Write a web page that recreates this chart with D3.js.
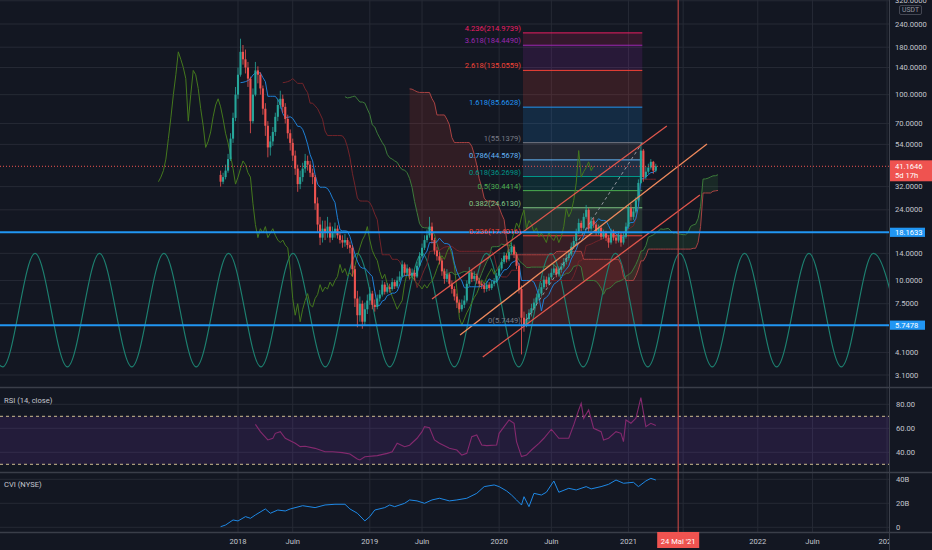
<!DOCTYPE html>
<html>
<head>
<meta charset="utf-8">
<script src="https://cdn.jsdelivr.net/npm/d3@7/dist/d3.min.js"></script>
<style>
html,body{margin:0;padding:0;background:#131722;overflow:hidden;}
svg{display:block;font-family:Roboto,"Liberation Sans",sans-serif;}
</style>
</head>
<body>
<svg id="chart" width="932" height="550"></svg>
<script>
// ================= DATA =================
const firstWeek = "2017-11-13";      // first weekly bar
const firstOpen = 37;
const closes = [34,36,39,
45,58,75,100,128,
170,155,140,122,
72,100,135,128,
108,84,68,52,
56,63,76,88,95,
86,74,62,55,
47,40,33,36,
40,44,42,38,36,
26,20,17,19,
18,19.5,17,18,19,
17.5,16.5,16,16.5,
15.5,15,11.5,8,
6.5,7.5,6,7,
7.8,8.5,7.4,7.2,8.0,
8.4,9.5,8.7,9.2,
9.0,9.8,9.3,10,
10.5,12.2,11,11.6,10.6,
11,10.5,12,13.5,
15,16.5,17.5,19.5,
16.5,14.5,13.5,12.8,11.2,
10.2,10.8,9.6,9.0,
8.2,7.6,7.0,7.4,
7.8,9.6,11.0,10.2,10.6,
10.0,9.6,9.4,9.0,
9.5,9.1,9.6,9.9,
10.6,11.6,12.6,13.6,13.0,
14.2,15.2,13.8,12.0,
9.0,6.3,5.75,6.2,
6.7,7.1,7.6,8.1,8.5,
9.2,10.1,9.6,10.4,
11.0,11.6,10.8,11.4,
11.9,12.6,13.2,13.8,15.2,
16.3,18.2,20.4,19.2,
22.0,24.0,19.0,21.0,
20.0,18.2,19.2,17.2,18.0,
17.0,16.0,18.2,17.0,
16.4,17.6,16.0,17.2,
19.5,24.5,22.0,23.5,27.0,
33.5,50.0,36.0,38.5,
40.5,43.5,39.0,41.1646];
const highs = [39,38,42,
48,62,80,110,140,
200,185,175,150,
125,108,150,142,
132,112,90,72,
60,67,80,95,105,
100,90,78,65,
58,50,42,39,
43,48,47,44,40,
37,28,22,21,
21,22,20.5,19.5,20.5,
19.8,18.2,17.5,17.8,
17,16.2,15.5,12,
8.8,8.2,7.8,7.6,
8.4,9.2,8.8,7.9,8.4,
8.9,10,9.8,9.7,
9.6,10.3,10.1,10.5,
11.2,12.8,12.5,12.2,11.8,
11.6,11.4,12.6,14.2,
15.8,17.5,18.8,22,
20.5,17,15.2,14.2,13.2,
11.6,11.5,11,10,
9.3,8.5,7.9,7.9,
8.3,10,11.8,11.4,11.2,
10.9,10.3,9.9,9.7,
9.9,9.8,10,10.3,
11,12,13.2,14.2,14,
14.8,16,15.6,14.2,
12.4,9.4,6.8,6.6,
7.0,7.5,8.0,8.5,9.0,
9.7,10.6,10.5,10.9,
11.6,12.2,11.9,11.9,
12.4,13.2,13.8,14.5,16,
17.2,19,21.5,21,
23,25.5,24.5,22,
21.8,20.5,20,19.6,18.8,
18.5,17.5,19,18.8,
17.6,18.4,18,18,
20.5,25.5,25.8,24.5,28,
35,55.1379,51,41,
42.5,45,44,42.5];
const lows = [32,33,35,
38,44,55,72,95,
125,145,130,110,
62,70,98,115,
100,78,60,46,
47,53,60,72,84,
80,70,58,50,
44,37,30,31,
34,38,39,36,33,
24,18,15.5,16,
16.5,17,16,16.5,17,
16.8,15.8,15,15.2,
14.8,14,10.5,7.2,
5.6,6,5.5,5.7,
6.6,7.4,7.0,6.8,7.0,
7.7,8.2,8.4,8.5,
8.6,8.8,9.0,9.1,
9.8,10.3,10.6,10.7,10.1,
10.3,10,10.3,11.8,
13.2,14.6,16,17,
15.8,13.8,12.8,12.2,10.6,
9.6,9.8,9.2,8.5,
7.8,7.1,6.7,6.8,
7.1,7.6,9.3,9.8,9.9,
9.6,9.2,9.0,8.6,
8.7,8.8,8.9,9.3,
9.7,10.3,11.3,12.3,12.5,
12.7,13.8,13.2,11.5,
8.5,4.0,5.3,5.6,
5.9,6.4,6.9,7.3,7.8,
8.2,9.0,9.2,9.4,
10.1,10.7,10.4,10.5,
11.0,11.6,12.2,12.8,13.5,
14.8,15.8,17.8,18.4,
18.8,21.5,18.2,18.5,
19.2,17.5,17.6,16.6,16.8,
16.3,15,15.6,16.4,
15.8,16,15.2,15.6,
16.8,19,21,21.2,23,
26.5,33,34,35,
37.5,39.5,37.5,38.2];

const priceTicks = [320,240,180,140,100,70,54,32,24,14,10,7.5,4.1,3.1];
const lastPrice = 41.1646;
const lastPriceCountdown = "5d 17h";
const levelLines = [18.1633, 5.7478];
const quoteCurrency = "USDT";

const fibRatios = ["0","0.236","0.382","0.5","0.618","0.786","1","1.618","2.618","3.618","4.236"];
const fibPrices = [5.7449,17.4016,24.6130,30.4414,36.2698,44.5678,55.1379,85.6628,135.0559,184.4490,214.9739];
const fibColors = ["#787b86","#f44336","#81c784","#4caf50","#009688","#64b5f6","#787b86","#2196f3","#f44336","#9c27b0","#e91e63"];
const fibAnchorDates = ["2020-03-13","2021-02-12"];

const channelStartDates  = ["2019-07-01","2019-09-18","2019-11-21"];
const channelStartPrices = [7.95, 5.09, 3.87];
const channelEndDates    = ["2021-04-22","2021-08-13","2021-07-24"];
const channelEndPrices   = [67.8, 54.3, 28.85];

// cycle extremes (week offsets from first bar) and their prices
const cycleWeeks  = [-100.5,-87.6,-74.6,-61.6,-48.7,-35.7,-22.8,-9.8,3.2,16.2,29.1,42.1,55.0,68.0,81.0,94.0,106.9,119.9,132.8,145.8,158.8,171.8,184.7,197.7,210.7,223.6,236.6,249.6,262.5,275.5];
const cycleValues = [14,3.43,14,3.43,14,3.43,14,3.43,14,3.43,14,3.43,14,3.43,14,3.43,14,3.43,14,3.43,14,3.43,14,3.43,14,3.43,14,3.43,14,3.43];

const rsiWeeks  = [14,16,19,21,22,24,26,30,32,34,38,42,45,49,52,55,56,58,63,67,69,71,74,76,79,81,82,84,86,88,92,95,97,99,101,103,105,107,111,112,114,116,118,119,121,123,125,128,130,133,136,140,142,144,145,146,148,150,153,154,156,159,161,162,163,165,167,169,171,173,175];
const rsiValues = [63.3,57.2,50.3,51.6,55.8,57.2,51.7,47.5,44.7,45,43.3,40.5,40.5,39.7,38.6,34.4,33.6,36.3,37.2,39.1,40.5,47.5,44.7,45.9,51.7,57.2,61.4,60.5,50.3,47.5,43.3,41.9,37.7,39.1,53,54.4,46.1,45.6,46.1,55.8,61.4,66.9,64.2,48.9,36.4,37.7,41.9,47.5,51.7,59.2,51.7,51.7,62.8,75.3,80.8,68.3,75.3,60,57.2,50.3,51.7,57.2,55.8,48.9,66.9,64.2,68.3,85.5,61.4,64.2,62.3];
const rsiTicks = [80,60,40];
const rsiBands = [70,30];

const cviWeeks  = [0,2,5,7,10,12,14,18,20,23,26,28,33,38,42,46,50,52,55,58,60,62,66,68,70,74,76,79,82,85,88,92,95,99,103,106,110,112,115,117,119,121,122,124,126,129,131,134,136,140,143,147,149,153,156,159,162,166,168,171,173,175];
const cviValues = [0.5,1.9,6.1,5.3,8.9,7.5,10.3,15.3,11.7,14.4,13.6,15.3,18,16.4,18.6,19.2,19.2,15.3,11.7,5.3,8.9,14.4,16.4,18.6,17.2,20,22.8,22,20,22.8,24.2,22,22.8,24.2,28.3,33.9,35.3,33.9,30.3,26.9,22.8,18.6,25.5,17.2,28.3,26.9,29.2,38.6,29.2,32.5,31.1,33.9,32,33.9,35.8,39.4,36.7,37.5,33.9,38.6,40.8,39.4];
const cviTicks = [40,20,0];
const cviTickLabels = ["40B","20B","0"];

const timeTickDates  = ["2018-01-01","2018-06-04","2019-01-07","2019-06-03","2020-01-06","2020-06-01","2021-01-04","2021-06-07","2022-01-03","2022-06-06","2023-01-02"];
const timeTickLabels = ["2018","Juin","2019","Juin","2020","Juin","2021","","2022","Juin","2023"];
const cursorDate  = "2021-05-24";
const cursorLabel = "24 Mai '21";

// ================= LAYOUT =================
const BG="#131722", GRID="#262a35", TXT="#c3c6ce", UP="#26a69a", DN="#ef5350";
const plotR = 889;
const mainH = 387, rsiT = 388, rsiB = 472, cviT = 473, cviB = 532;

const t0 = Date.parse(firstWeek+"T00:00:00Z");
const wk = s => (Date.parse(s+"T00:00:00Z") - t0) / (7*864e5);

const x  = d3.scaleLinear().domain([0,175]).range([220.6,655.8]);
const y  = d3.scaleLog().domain([240,3.1]).range([24,375]);
const yR = d3.scaleLinear().domain([80,40]).range([404.3,452.3]);
const yC = d3.scaleLinear().domain([40,0]).range([479.3,527.3]);

const svg = d3.select("#chart");
svg.append("rect").attr("width",932).attr("height",550).attr("fill",BG);
const defs = svg.append("defs");
defs.append("clipPath").attr("id","cMain").append("rect").attr("x",0).attr("y",0).attr("width",plotR).attr("height",mainH);
defs.append("clipPath").attr("id","cRsi").append("rect").attr("x",0).attr("y",rsiT).attr("width",plotR).attr("height",rsiB-rsiT);
defs.append("clipPath").attr("id","cCvi").append("rect").attr("x",0).attr("y",cviT).attr("width",plotR).attr("height",cviB-cviT);
defs.append("clipPath").attr("id","cTime").append("rect").attr("x",0).attr("y",cviB).attr("width",plotR).attr("height",550-cviB);
defs.append("clipPath").attr("id","cAxis").append("rect").attr("x",plotR).attr("y",0).attr("width",932-plotR).attr("height",550);

// ---------- grid ----------
const gGrid = svg.append("g");
timeTickDates.forEach(d=>{
  const xx = x(wk(d));
  if (xx < plotR) gGrid.append("line").attr("x1",xx).attr("x2",xx).attr("y1",0).attr("y2",cviB).attr("stroke",GRID).attr("stroke-width",1);
});
priceTicks.forEach(v=>gGrid.append("line").attr("x1",0).attr("x2",plotR).attr("y1",y(v)).attr("y2",y(v)).attr("stroke",GRID));
rsiTicks.forEach(v=>gGrid.append("line").attr("x1",0).attr("x2",plotR).attr("y1",yR(v)).attr("y2",yR(v)).attr("stroke",GRID));
cviTicks.forEach(v=>gGrid.append("line").attr("x1",0).attr("x2",plotR).attr("y1",yC(v)).attr("y2",yC(v)).attr("stroke",GRID));

// ---------- main pane ----------
const gM = svg.append("g").attr("clip-path","url(#cMain)");

// Ichimoku computed from the bars
const n = closes.length;
const opens = closes.map((c,i)=> i===0 ? firstOpen : closes[i-1]);
function mid(i,len){
  if (i < len-1) return null;
  let hi=-Infinity, lo=Infinity;
  for (let j=i-len+1;j<=i;j++){ hi=Math.max(hi,highs[j]); lo=Math.min(lo,lows[j]); }
  return (hi+lo)/2;
}
const disp = 25;
const tenkan=[], kijun=[], spanA=[], spanB=[], lagging=[];
for (let i=0;i<n;i++){
  const t=mid(i,9), k=mid(i,26), b=mid(i,52);
  if (t!==null) tenkan.push({w:i,v:t});
  if (k!==null) kijun.push({w:i,v:k});
  if (t!==null && k!==null) spanA.push({w:i+disp,v:(t+k)/2});
  if (b!==null) spanB.push({w:i+disp,v:b});
  lagging.push({w:i-disp,v:closes[i]});
}
const aMap = new Map(spanA.map(d=>[d.w,d.v]));
const cloud = spanB.map(d=>({w:d.w, a:aMap.get(d.w), b:d.v}));
gM.append("path").datum(cloud).attr("fill","rgba(67,160,71,0.13)")
  .attr("d", d3.area().x(d=>x(d.w)).y0(d=>y(d.b)).y1(d=>y(Math.max(d.a,d.b))));
gM.append("path").datum(cloud).attr("fill","rgba(244,67,54,0.13)")
  .attr("d", d3.area().x(d=>x(d.w)).y0(d=>y(d.a)).y1(d=>y(Math.max(d.a,d.b))));

// Fibonacci retracement
const fx0 = x(wk(fibAnchorDates[0])), fx1 = x(wk(fibAnchorDates[1]));
const gF = gM.append("g");
for (let k=1;k<fibPrices.length;k++){
  gF.append("rect").attr("x",fx0).attr("width",fx1-fx0)
    .attr("y",y(fibPrices[k])).attr("height",y(fibPrices[k-1])-y(fibPrices[k]))
    .attr("fill",fibColors[k]).attr("fill-opacity",0.16);
}
fibPrices.forEach((p,k)=>{
  gF.append("line").attr("x1",fx0).attr("x2",fx1).attr("y1",y(p)).attr("y2",y(p))
    .attr("stroke",fibColors[k]).attr("stroke-width",1);
});

// cycle wave
const cyc = cycleWeeks.map((w,i)=>({w, v:cycleValues[i]}));
gM.append("path").datum(cyc).attr("fill","none").attr("stroke","#1d8070").attr("stroke-width",1.15)
  .attr("d", d3.line().x(d=>x(d.w)).y(d=>y(d.v)).curve(d3.curveMonotoneX));

// ichimoku lines
const ln = d3.line().x(d=>x(d.w)).y(d=>y(d.v));
gM.append("path").datum(lagging).attr("fill","none").attr("stroke","#44781d").attr("stroke-width",1).attr("d",ln);
gM.append("path").datum(spanA).attr("fill","none").attr("stroke","#3c7a3a").attr("stroke-width",1).attr("d",ln);
gM.append("path").datum(spanB).attr("fill","none").attr("stroke","#a84242").attr("stroke-width",1).attr("d",ln);
gM.append("path").datum(kijun).attr("fill","none").attr("stroke","#72242a").attr("stroke-width",1).attr("d",ln);
gM.append("path").datum(tenkan).attr("fill","none").attr("stroke","#1e80d6").attr("stroke-width",1).attr("d",ln);

// candles
const bars = closes.map((c,i)=>({i,o:opens[i],c,h:highs[i],l:lows[i]}));
gM.selectAll(".wick").data(bars).join("line").attr("class","wick")
  .attr("x1",d=>x(d.i)).attr("x2",d=>x(d.i)).attr("y1",d=>y(d.h)).attr("y2",d=>y(d.l))
  .attr("stroke",d=>d.c>=d.o?UP:DN).attr("stroke-width",0.8);
gM.selectAll(".body").data(bars).join("rect").attr("class","body")
  .attr("x",d=>x(d.i)-1.05).attr("width",2.1)
  .attr("y",d=>y(Math.max(d.o,d.c)))
  .attr("height",d=>Math.max(0.8,y(Math.min(d.o,d.c))-y(Math.max(d.o,d.c))))
  .attr("fill",d=>d.c>=d.o?UP:DN);

// fib trend (dashed)
gM.append("line").attr("x1",fx0).attr("y1",y(fibPrices[0])).attr("x2",fx1).attr("y2",y(fibPrices[6]))
  .attr("stroke","#9598a1").attr("stroke-width",1).attr("stroke-dasharray","3,3");

// channels
const chColors = ["#e0564c","#f08a5d","#e0564c"];
channelStartDates.forEach((d,k)=>{
  gM.append("line").attr("x1",x(wk(d))).attr("y1",y(channelStartPrices[k]))
    .attr("x2",x(wk(channelEndDates[k]))).attr("y2",y(channelEndPrices[k]))
    .attr("stroke",chColors[k]).attr("stroke-width",1.3);
});

// horizontal levels
levelLines.forEach(v=>gM.append("line").attr("x1",0).attr("x2",plotR).attr("y1",y(v)).attr("y2",y(v))
  .attr("stroke","#2196f3").attr("stroke-width",2));
gM.append("line").attr("x1",0).attr("x2",plotR).attr("y1",y(lastPrice)).attr("y2",y(lastPrice))
  .attr("stroke","#ef5350").attr("stroke-width",1).attr("stroke-dasharray","1,2");

// fib labels
fibPrices.forEach((p,k)=>{
  gM.append("text").attr("x",fx0-2).attr("y",y(p)-2).attr("text-anchor","end")
    .attr("font-size",7.6).attr("fill",fibColors[k])
    .text(fibRatios[k]+"("+p.toFixed(4)+")");
});

// ---------- RSI pane ----------
const gR = svg.append("g").attr("clip-path","url(#cRsi)");
gR.append("rect").attr("x",0).attr("width",plotR).attr("y",yR(rsiBands[0])).attr("height",yR(rsiBands[1])-yR(rsiBands[0]))
  .attr("fill","rgba(126,60,200,0.15)");
rsiBands.forEach(v=>gR.append("line").attr("x1",0).attr("x2",plotR).attr("y1",yR(v)).attr("y2",yR(v))
  .attr("stroke","#cdbd8f").attr("stroke-width",1).attr("stroke-dasharray","3,3"));
gR.append("path").datum(rsiWeeks.map((w,i)=>({w,v:rsiValues[i]}))).attr("fill","none")
  .attr("stroke","#84296e").attr("stroke-width",1.1)
  .attr("d", d3.line().x(d=>x(d.w)).y(d=>yR(d.v)));
svg.append("text").attr("x",4).attr("y",402.5).attr("font-size",7.6).attr("fill",TXT).text("RSI (14, close)");

// ---------- CVI pane ----------
const gC = svg.append("g").attr("clip-path","url(#cCvi)");
gC.append("path").datum(cviWeeks.map((w,i)=>({w,v:cviValues[i]}))).attr("fill","none")
  .attr("stroke","#1e88e5").attr("stroke-width",1)
  .attr("d", d3.line().x(d=>x(d.w)).y(d=>yC(d.v)));
svg.append("text").attr("x",4).attr("y",486.5).attr("font-size",7.6).attr("fill",TXT).text("CVI (NYSE)");

// ---------- separators ----------
[mainH, rsiB, cviB].forEach(yy=>svg.append("line").attr("x1",0).attr("x2",932).attr("y1",yy+0.5).attr("y2",yy+0.5)
  .attr("stroke","#3a3e49").attr("stroke-width",1.5));
svg.append("line").attr("x1",plotR+0.5).attr("x2",plotR+0.5).attr("y1",0).attr("y2",550).attr("stroke","#3a3e49").attr("stroke-width",1);

// cursor vertical line
const cx = x(wk(cursorDate));
svg.append("line").attr("x1",cx).attr("x2",cx).attr("y1",0).attr("y2",cviB).attr("stroke","#c94743").attr("stroke-width",1.1);

// ---------- price axis ----------
const gA = svg.append("g").attr("clip-path","url(#cAxis)");
priceTicks.forEach(v=>gA.append("text").attr("x",895).attr("y",y(v)).attr("dy","0.35em")
  .attr("font-size",7.6).attr("fill",TXT).text(v.toFixed(4)));
gA.append("rect").attr("x",899.5).attr("y",5.5).attr("width",22).attr("height",9).attr("rx",1.5)
  .attr("fill",BG).attr("stroke","#50535e").attr("stroke-width",0.8);
gA.append("text").attr("x",910.5).attr("y",10).attr("dy","0.35em").attr("text-anchor","middle")
  .attr("font-size",6.8).attr("fill","#9598a1").text(quoteCurrency);
levelLines.forEach(v=>{
  gA.append("rect").attr("x",890).attr("y",y(v)-4.6).attr("width",35).attr("height",9.2).attr("fill","#2196f3");
  gA.append("text").attr("x",895).attr("y",y(v)).attr("dy","0.35em").attr("font-size",7.6).attr("fill","#ffffff").text(String(v));
});
gA.append("rect").attr("x",890).attr("y",y(lastPrice)-6).attr("width",42).attr("height",21).attr("fill","#ef5350");
gA.append("text").attr("x",895).attr("y",y(lastPrice)).attr("dy","0.35em").attr("font-size",7.6).attr("fill","#fff").text(lastPrice.toFixed(4));
gA.append("text").attr("x",895).attr("y",y(lastPrice)+9.5).attr("dy","0.35em").attr("font-size",7.6).attr("fill","#fff").text(lastPriceCountdown);

rsiTicks.forEach(v=>gA.append("text").attr("x",896).attr("y",yR(v)).attr("dy","0.35em").attr("font-size",7.6).attr("fill",TXT).text(v.toFixed(2)));
cviTicks.forEach((v,i)=>gA.append("text").attr("x",896).attr("y",yC(v)).attr("dy","0.35em").attr("font-size",7.6).attr("fill",TXT).text(cviTickLabels[i]));

// ---------- time axis ----------
const gT = svg.append("g").attr("clip-path","url(#cTime)");
timeTickDates.forEach((d,i)=>{ if (timeTickLabels[i]) gT.append("text").attr("x",x(wk(d))).attr("y",543.5).attr("text-anchor","middle")
  .attr("font-size",7.6).attr("fill",TXT).text(timeTickLabels[i]); });
svg.append("rect").attr("x",cx-21).attr("y",532).attr("width",42).attr("height",16).attr("fill","#ef5350");
svg.append("text").attr("x",cx).attr("y",543.5).attr("text-anchor","middle").attr("font-size",7.6).attr("fill","#fff").text(cursorLabel);
</script>
</body>
</html>
